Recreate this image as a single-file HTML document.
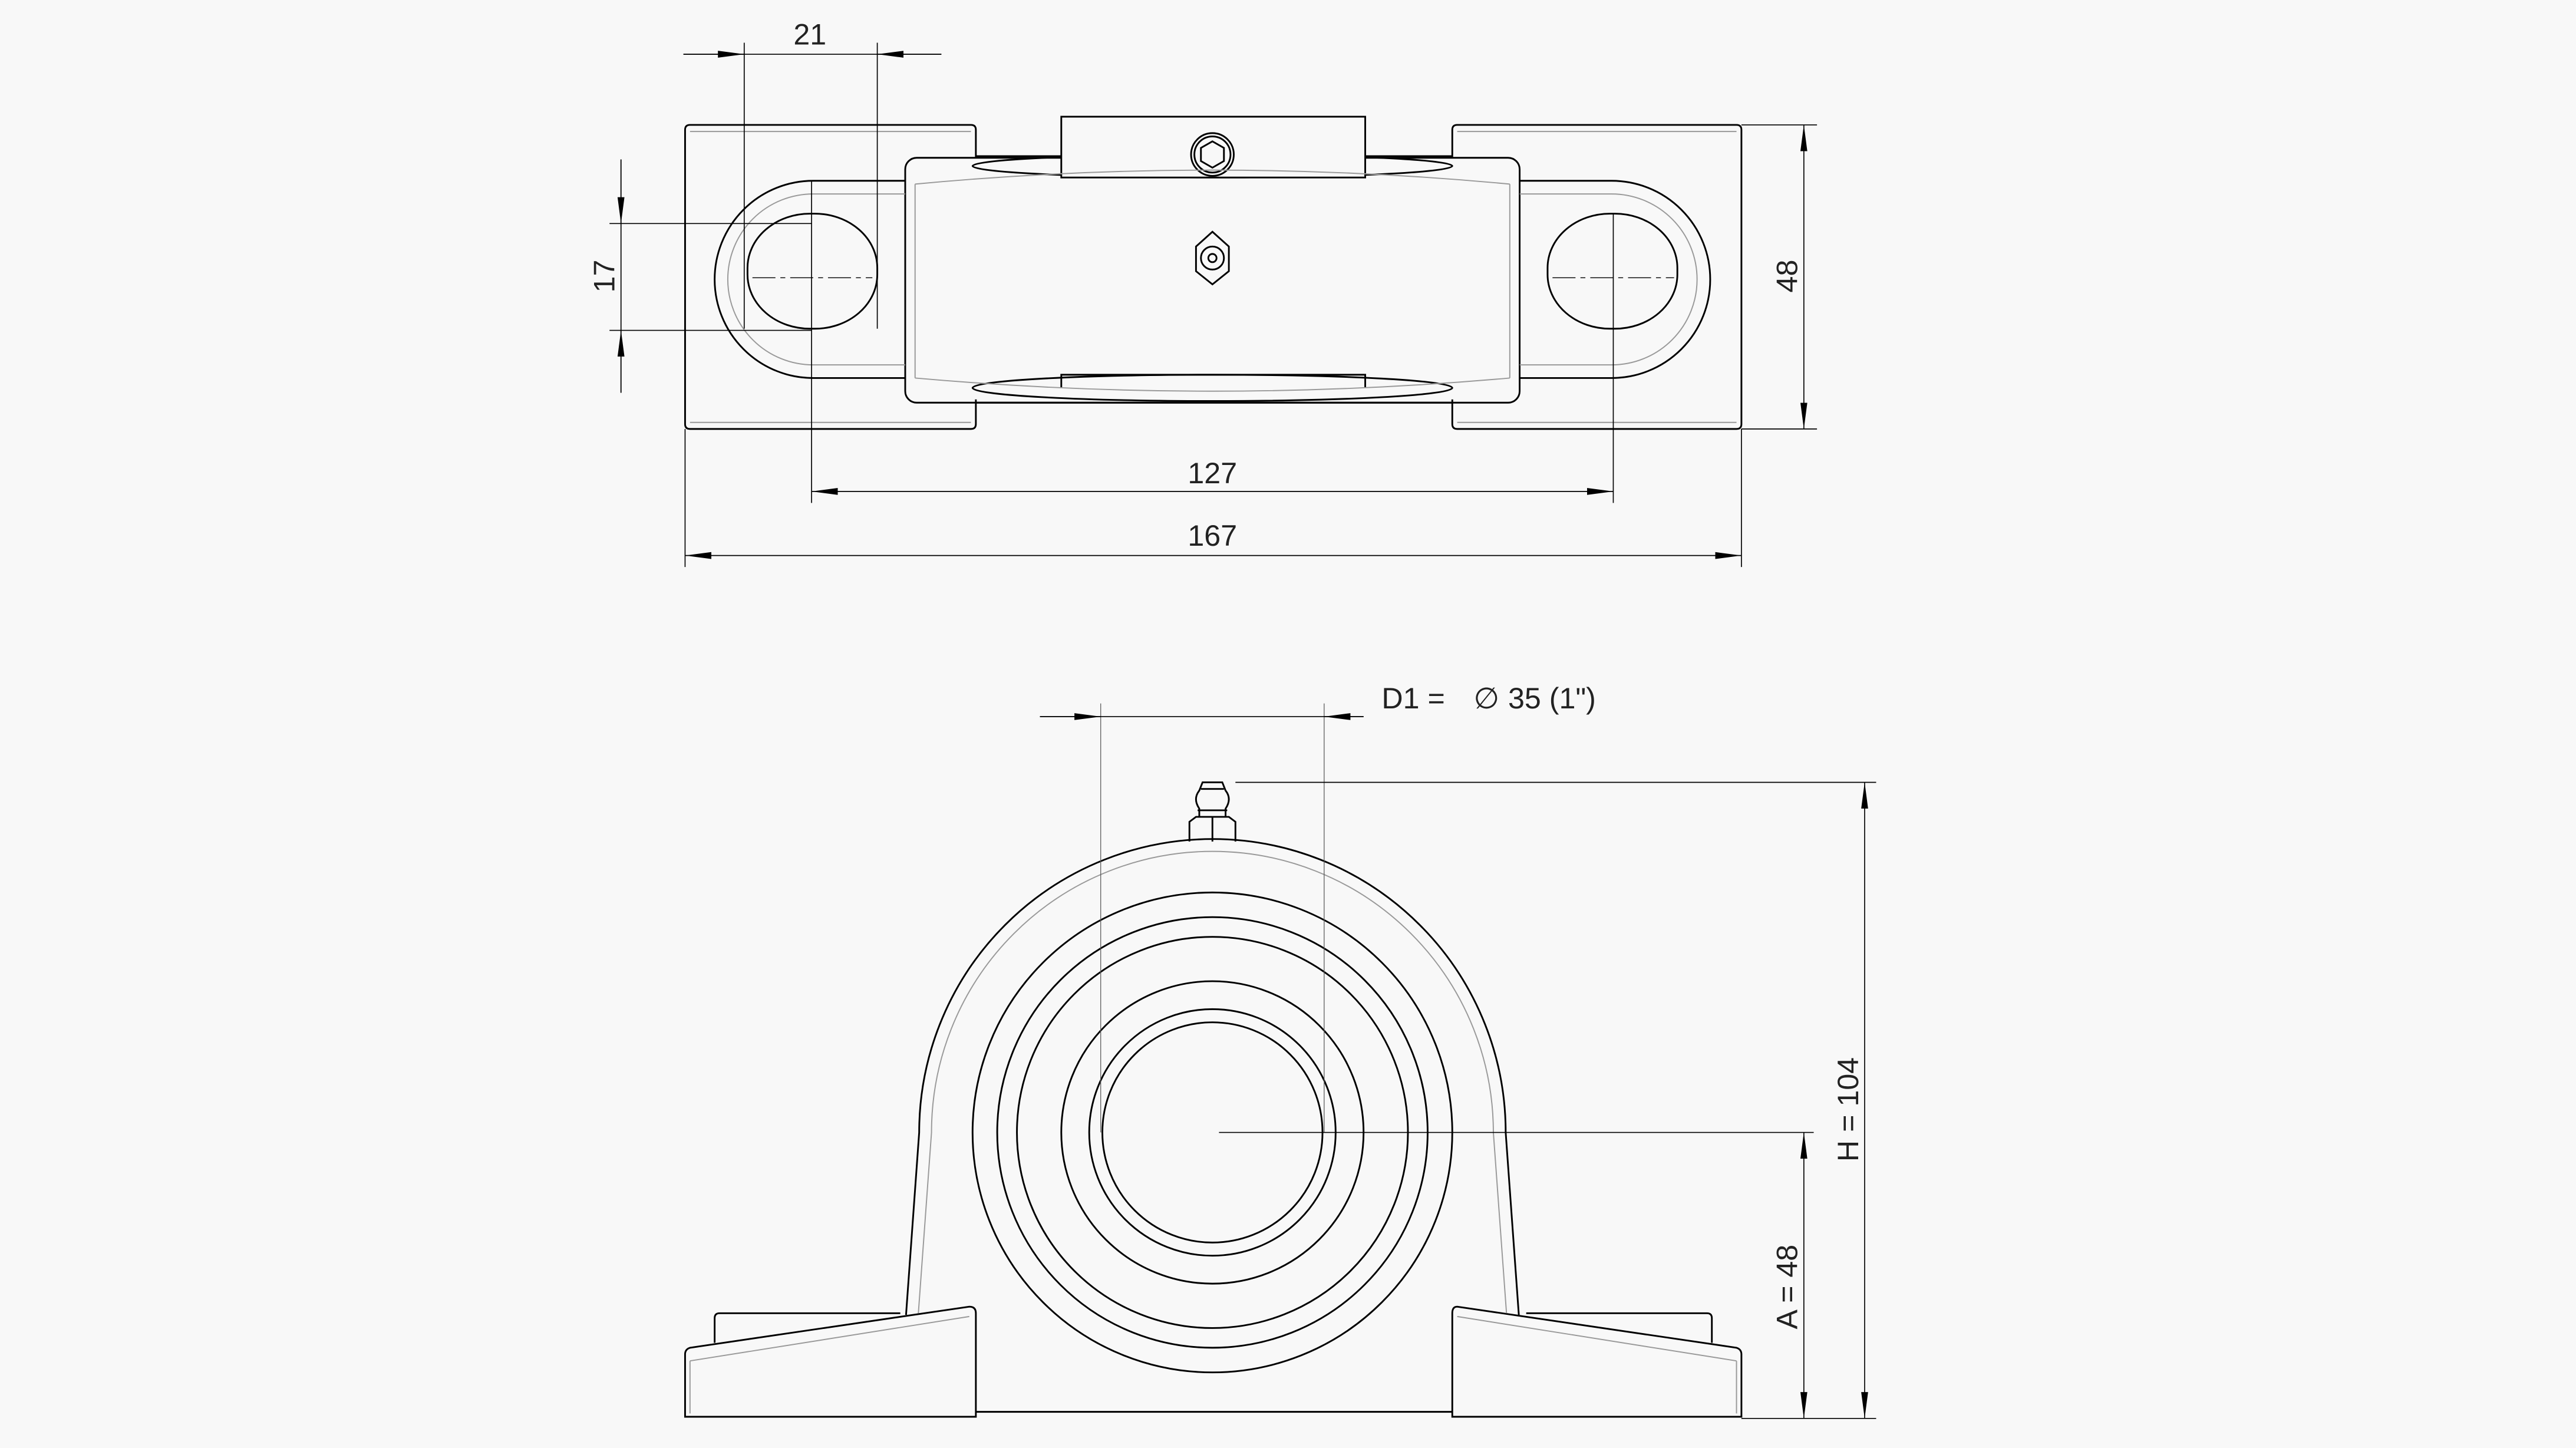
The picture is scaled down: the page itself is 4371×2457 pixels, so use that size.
<!DOCTYPE html>
<html><head><meta charset="utf-8"><style>
html,body{margin:0;padding:0;background:#f8f8f8;}
svg{display:block;}
text{font-family:"Liberation Sans",sans-serif;font-size:18px;fill:#222;}
</style></head><body>
<svg width="4371" height="2457" viewBox="0 0 1568 881" preserveAspectRatio="none" xmlns="http://www.w3.org/2000/svg">
<defs>
<marker id="a" markerUnits="userSpaceOnUse" markerWidth="20" markerHeight="8" refX="16" refY="4" orient="auto-start-reverse" viewBox="0 0 20 8">
<path d="M0,1.9 L16,4 L0,6.1 z" fill="#000"/>
</marker>
</defs>
<rect width="1568" height="881" fill="#f8f8f8"/>

<!-- ============ TOP VIEW ============ -->
<g fill="none" stroke="#000" stroke-width="1.05">
  <path d="M594,96 L594,79 Q594,76 591,76 L420,76 Q417,76 417,79 L417,258 Q417,261 420,261 L591,261 Q594,261 594,258 L594,243"/>
  <path d="M884,96 L884,79 Q884,76 887,76 L1057,76 Q1060,76 1060,79 L1060,258 Q1060,261 1057,261 L887,261 Q884,261 884,258 L884,243"/>
  <line x1="594" y1="95" x2="646" y2="95"/><line x1="831" y1="95" x2="884" y2="95"/>
  <line x1="594" y1="245" x2="884" y2="245"/>
  <path d="M551,110 L495,110 A60,60 0 0 0 495,230 L551,230"/>
  <path d="M925,110 L981,110 A60,60 0 0 1 981,230 L925,230"/>
  <rect x="455" y="130" width="79" height="70" rx="38" ry="33"/>
  <rect x="942" y="130" width="79" height="70" rx="38" ry="33"/>
  <rect x="551" y="96" width="374" height="149" rx="7"/>
  <ellipse cx="738" cy="101" rx="146" ry="7"/>
  <rect x="646" y="71" width="185" height="37" fill="#f8f8f8"/>
  <path d="M646,236 L646,228 L831,228 L831,236"/>
  <ellipse cx="738" cy="236" rx="146" ry="8"/>
  <circle cx="738" cy="94" r="13" fill="#f8f8f8"/>
  <circle cx="738" cy="94" r="11"/>
  <polygon points="738,86 745,90 745,98 738,102 731,98 731,90"/>
  <polygon points="738,141 748,150 748,165 738,173 728,165 728,150"/>
  <circle cx="738" cy="157" r="7"/>
  <circle cx="738" cy="157" r="2.5"/>
</g>
<g fill="none" stroke="#999" stroke-width="0.7">
  <path d="M557,112 Q738,95 919,112"/>
  <path d="M557,230 Q738,246 919,230"/>
  <path d="M557,112 L557,230 M919,112 L919,230"/>
  <path d="M551,118 L495,118 A52,52 0 0 0 495,222 L551,222"/>
  <path d="M925,118 L981,118 A52,52 0 0 1 981,222 L925,222"/>
  <line x1="420" y1="80" x2="591" y2="80"/><line x1="420" y1="257" x2="591" y2="257"/>
  <line x1="887" y1="80" x2="1057" y2="80"/><line x1="887" y1="257" x2="1057" y2="257"/>
</g>
<g fill="none" stroke="#000" stroke-width="0.6">
  <line x1="494" y1="110" x2="494" y2="306"/>
  <line x1="982" y1="130" x2="982" y2="306"/>
  <line x1="453" y1="26" x2="453" y2="200"/>
  <line x1="534" y1="26" x2="534" y2="200"/>
  <line x1="371" y1="136" x2="494" y2="136"/>
  <line x1="371" y1="201" x2="494" y2="201"/>
  <line x1="1060" y1="76" x2="1106" y2="76"/>
  <line x1="1060" y1="261" x2="1106" y2="261"/>
  <line x1="417" y1="261" x2="417" y2="345"/>
  <line x1="1060" y1="261" x2="1060" y2="345"/>
  <line x1="416" y1="33" x2="573" y2="33"/>
  <line x1="416" y1="33" x2="453" y2="33" marker-end="url(#a)"/>
  <line x1="573" y1="33" x2="534" y2="33" marker-end="url(#a)"/>
  <line x1="378" y1="97" x2="378" y2="239"/>
  <line x1="378" y1="97" x2="378" y2="136" marker-end="url(#a)"/>
  <line x1="378" y1="239" x2="378" y2="201" marker-end="url(#a)"/>
  <line x1="1098" y1="76" x2="1098" y2="261" marker-start="url(#a)" marker-end="url(#a)"/>
  <line x1="494" y1="299" x2="982" y2="299" marker-start="url(#a)" marker-end="url(#a)"/>
  <line x1="417" y1="338" x2="1060" y2="338" marker-start="url(#a)" marker-end="url(#a)"/>
</g>
<g fill="none" stroke="#000" stroke-width="0.5" stroke-dasharray="14,3,3,3">
  <line x1="458" y1="169" x2="531" y2="169"/>
  <line x1="945" y1="169" x2="1019" y2="169"/>
</g>
<text x="493" y="27" text-anchor="middle">21</text>
<text x="738" y="294" text-anchor="middle">127</text>
<text x="738" y="332" text-anchor="middle">167</text>
<text transform="translate(374,168) rotate(-90)" text-anchor="middle">17</text>
<text transform="translate(1094,168) rotate(-90)" text-anchor="middle">48</text>

<!-- ============ FRONT VIEW ============ -->
<g fill="none" stroke="#000" stroke-width="1.05">
  <path d="M551.5,800 L559.5,689 A178.5,178.5 0 0 1 916.5,689 L924.5,800"/>
  <circle cx="738" cy="689" r="67"/>
  <circle cx="738" cy="689" r="75"/>
  <circle cx="738" cy="689" r="92"/>
  <circle cx="738" cy="689" r="119"/>
  <circle cx="738" cy="689" r="131"/>
  <circle cx="738" cy="689" r="146"/>
  <path d="M435,817 L435,802 Q435,799 438,799 L548,799"/>
  <path d="M417,862 L417,824 Q417,821 420,820 L590,795 Q594,795 594,799 L594,862 Z"/>
  <path d="M1042,817 L1042,802 Q1042,799 1039,799 L929,799"/>
  <path d="M1060,862 L1060,824 Q1060,821 1057,820 L887,795 Q884,795 884,799 L884,862 Z"/>
  <line x1="594" y1="859" x2="884" y2="859"/>
  <path d="M724,512 L724,500 L728,497 L748,497 L752,500 L752,512"/>
  <line x1="738" y1="497" x2="738" y2="512"/>
  <path d="M730,497 L730,492 Q726,486 730,481 L732,476 L744,476 L746,481 Q750,486 746,492 L746,497"/>
  <line x1="731" y1="480" x2="745" y2="480"/>
  <line x1="729" y1="493" x2="747" y2="493"/>
</g>
<g fill="none" stroke="#999" stroke-width="0.7">
  <path d="M559,799 L567,689 A171,171 0 0 1 909,689 L917,799"/>
  <path d="M420,828 L590,801 M420,828 L420,860"/>
  <path d="M1057,828 L887,801 M1057,828 L1057,860"/>
</g>
<g fill="none" stroke="#000" stroke-width="0.6">
  <line x1="670" y1="428" x2="670" y2="689" stroke="#555" stroke-width="0.45"/>
  <line x1="806" y1="428" x2="806" y2="689" stroke="#555" stroke-width="0.45"/>
  <line x1="633" y1="436" x2="830" y2="436"/>
  <line x1="633" y1="436" x2="670" y2="436" marker-end="url(#a)"/>
  <line x1="830" y1="436" x2="806" y2="436" marker-end="url(#a)"/>
  <line x1="752" y1="476" x2="1142" y2="476"/>
  <line x1="742" y1="689" x2="1104" y2="689"/>
  <line x1="1060" y1="863" x2="1142" y2="863"/>
  <line x1="1135" y1="476" x2="1135" y2="863" marker-start="url(#a)" marker-end="url(#a)"/>
  <line x1="1098" y1="689" x2="1098" y2="863" marker-start="url(#a)" marker-end="url(#a)"/>
</g>
<text x="841" y="431">D1 =</text>
<text x="897" y="431" font-size="22">∅</text>
<text x="918" y="431">35 (1")</text>
<text transform="translate(1131,675) rotate(-90)" text-anchor="middle">H = 104</text>
<text transform="translate(1094,783) rotate(-90)" text-anchor="middle">A = 48</text>
</svg>
</body></html>
